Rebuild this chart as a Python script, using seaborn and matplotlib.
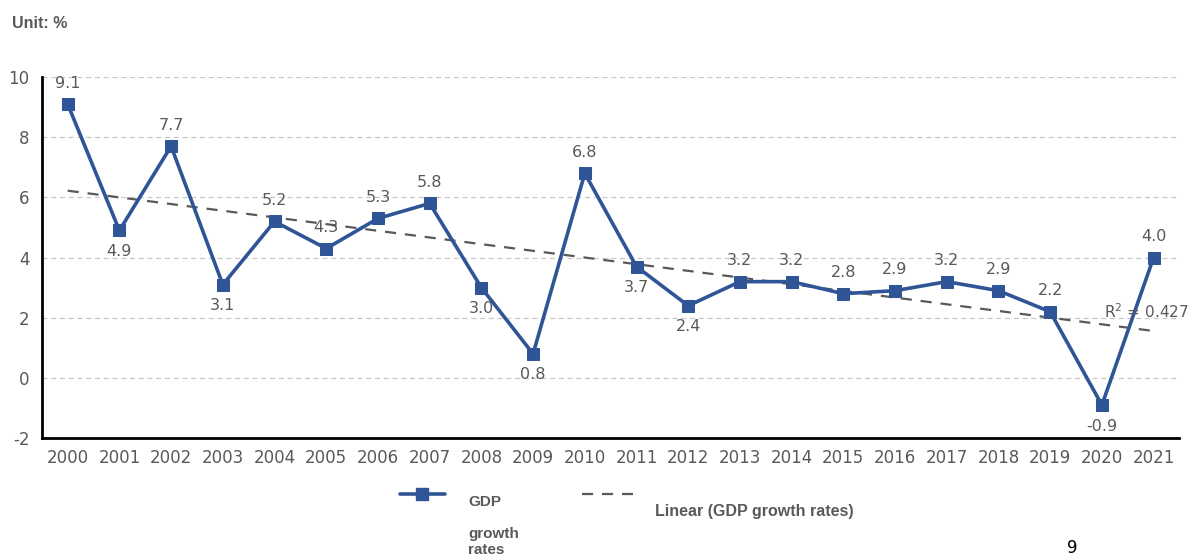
import numpy as np
import matplotlib
matplotlib.use('Agg')
import matplotlib.pyplot as plt
import seaborn as sns
from matplotlib.lines import Line2D

years = ['2000', '2001', '2002', '2003', '2004', '2005', '2006', '2007', '2008', '2009', '2010',
         '2011', '2012', '2013', '2014', '2015', '2016', '2017', '2018', '2019', '2020', '2021']
gdp_growth = [9.1, 4.9, 7.7, 3.1, 5.2, 4.3, 5.3, 5.8, 3.0, 0.8, 6.8,
              3.7, 2.4, 3.2, 3.2, 2.8, 2.9, 3.2, 2.9, 2.2, -0.9, 4.0]
# which labels sit under the point
label_below = ['2001', '2003', '2008', '2009', '2011', '2012', '2020']
r_squared = '0.427'

blue = '#2F5597'
grey = '#595959'
idx = np.arange(len(years))

sns.set_style('white')
plt.rcParams['font.family'] = ['DejaVu Sans']
plt.rcParams['axes.unicode_minus'] = False

fig = plt.figure(figsize=(11.95, 5.56), dpi=100)
ax = fig.add_axes([0.035, 0.212, 0.952, 0.6495])

sns.regplot(x=idx, y=gdp_growth, scatter=False, ci=None, ax=ax,
            line_kws=dict(ls=(0, (5, 4)), color=grey, lw=1.6))
sns.lineplot(x=idx, y=gdp_growth, marker='s', markersize=8, color=blue, lw=2.6,
             markeredgecolor=blue, ax=ax)

for i, (yr, v) in enumerate(zip(years, gdp_growth)):
    if yr in label_below:
        ax.text(i, v - 0.45, f'{v:.1f}', ha='center', va='top', fontsize=11.5, color=grey)
    else:
        ax.text(i, v + 0.45, f'{v:.1f}', ha='center', va='bottom', fontsize=11.5, color=grey)

ax.text(20.05, 1.9, 'R$^2$ = ' + r_squared, ha='left', va='bottom', fontsize=11, color=grey)

ax.set_xlim(-0.5, len(years) - 0.5)
ax.set_ylim(-2, 10)
ax.set_yticks(range(-2, 11, 2))
ax.yaxis.grid(True, ls=(0, (4, 3)), color='#c8c8c8', lw=0.9)
ax.set_axisbelow(True)

ax.set_xticks(idx)
ax.set_xticklabels(years, fontsize=12, color=grey)
ax.set_xticks(np.arange(-0.5, len(years), 1), minor=True)
ax.tick_params(axis='x', which='major', length=0, pad=8)
ax.tick_params(axis='x', which='minor', length=6, width=2, color='black', direction='out')
ax.tick_params(axis='y', length=4, width=2, color='black', direction='out', labelsize=12,
               labelcolor=grey, pad=5)

for s in ['top', 'right']:
    ax.spines[s].set_visible(False)
for s in ['left', 'bottom']:
    ax.spines[s].set_color('black')
    ax.spines[s].set_linewidth(2)
ax.set_xlabel('')
ax.set_ylabel('')

fig.text(0.01, 0.95, 'Unit: %', fontsize=11.5, fontweight='bold', color=grey,
         family='Liberation Sans')

# legend drawn by hand
fig.add_artist(Line2D([0.335, 0.372], [0.111, 0.111], color=blue, lw=2.6,
                      transform=fig.transFigure))
fig.add_artist(Line2D([0.3535], [0.111], marker='s', markersize=8, color=blue,
                      transform=fig.transFigure))
fig.add_artist(Line2D([0.487, 0.53], [0.111, 0.111], color=grey, lw=1.6,
                      ls=(0, (5, 4)), transform=fig.transFigure))
for y, t in [(0.09, 'GDP'), (0.032, 'growth'), (0.003, 'rates')]:
    fig.text(0.392, y, t, fontsize=11, fontweight='bold', color=grey, family='Liberation Sans')
fig.text(0.548, 0.072, 'Linear (GDP growth rates)', fontsize=11.5, fontweight='bold',
         color=grey, family='Liberation Sans')
fig.text(0.893, 0.005, '9', fontsize=12, color='black')

fig.savefig('out.png', dpi=100)
